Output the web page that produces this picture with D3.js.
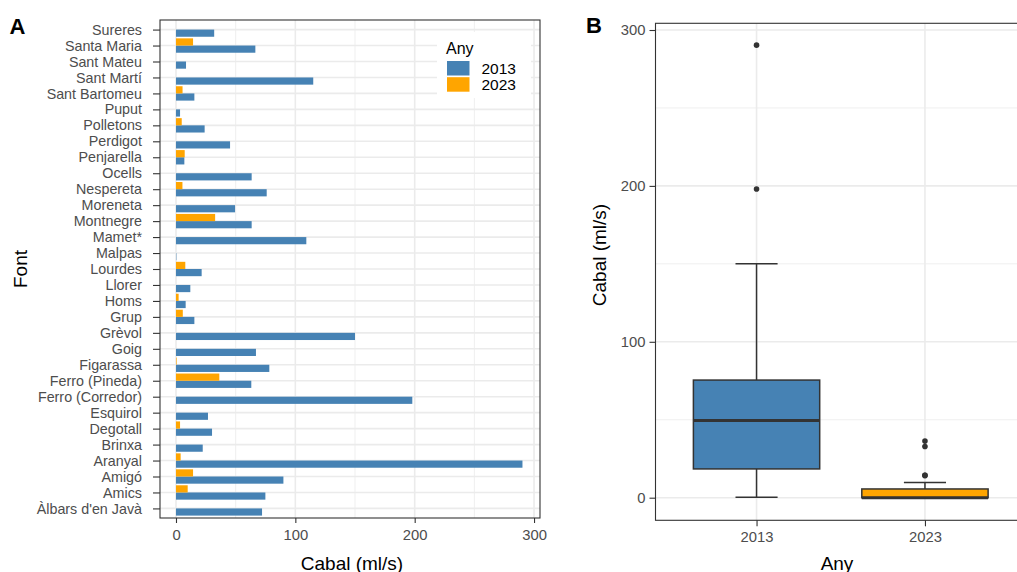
<!DOCTYPE html>
<html><head><meta charset="utf-8">
<script src="https://cdn.jsdelivr.net/npm/d3@7"></script>
<style>
html,body{margin:0;padding:0;background:#fff;overflow:hidden;}
text{font-family:"Liberation Sans",Arial,Helvetica,sans-serif;}
</style></head>
<body>
<svg id="chart" width="1017" height="572"></svg>
<script>
// ---- data ----
const categories = ["Sureres","Santa Maria","Sant Mateu","Sant Martí","Sant Bartomeu","Puput","Polletons","Perdigot","Penjarella","Ocells","Nespereta","Moreneta","Montnegre","Mamet*","Malpas","Lourdes","Llorer","Homs","Grup","Grèvol","Goig","Figarassa","Ferro (Pineda)","Ferro (Corredor)","Esquirol","Degotall","Brinxa","Aranyal","Amigó","Amics","Àlbars d'en Javà"];
const values2013 = [32,66.5,8.4,115,15.4,3.4,24,45.3,7,63.4,76,49.5,63.4,109.2,0.3,21.5,12,8.1,15.4,150,67,78.2,63.1,198,26.8,30.2,22.4,290.3,90,74.9,72.1];
const values2023 = [0,14.3,0,0,5.5,0,4.8,0,7.3,0,5.4,0,32.8,0,0,7.8,0,2.2,5.7,0,0,0.5,36.3,0,0,3.4,0,3.9,14.3,9.8,0];
const years = ["2013","2023"];
const yearColors = ["#4682B4","#FFA500"];
const xTicksA = [0,100,200,300];
const xMinorA = [50,150,250];
const yTicksB = [0,100,200,300];
const yMinorB = [50,150,250];

const svg = d3.select("#chart");
const grid = "#EBEBEB", dark = "#333333", tickCol = "#4D4D4D";

// ================= Panel A =================
const A = {x0:160, x1:540, y0:20, y1:518};
const xA = d3.scaleLinear().domain([-13.4,305]).range([A.x0,A.x1]);
const yA = d3.scalePoint().domain(categories).range([A.y0,A.y1]).padding(0.6);
const step = yA.step();
const inner = d3.scaleBand().domain(["2023","2013"]).range([-0.45*step,0.45*step]);
const colorScale = d3.scaleOrdinal().domain(years).range(yearColors);

const gA = svg.append("g");
gA.append("rect").attr("x",A.x0).attr("y",A.y0).attr("width",A.x1-A.x0).attr("height",A.y1-A.y0).attr("fill","#fff");
gA.selectAll(".minx").data(xMinorA).join("line")
  .attr("x1",d=>xA(d)).attr("x2",d=>xA(d)).attr("y1",A.y0).attr("y2",A.y1)
  .attr("stroke",grid).attr("stroke-width",0.8);
gA.selectAll(".majx").data(xTicksA).join("line")
  .attr("x1",d=>xA(d)).attr("x2",d=>xA(d)).attr("y1",A.y0).attr("y2",A.y1)
  .attr("stroke",grid).attr("stroke-width",1.6);
gA.selectAll(".majy").data(categories).join("line")
  .attr("x1",A.x0).attr("x2",A.x1).attr("y1",d=>yA(d)).attr("y2",d=>yA(d))
  .attr("stroke",grid).attr("stroke-width",1.6);

const barData = [];
categories.forEach((c,i)=>{
  barData.push({cat:c, year:"2013", v:values2013[i]});
  barData.push({cat:c, year:"2023", v:values2023[i]});
});
gA.selectAll(".bar").data(barData).join("rect")
  .attr("x",xA(0))
  .attr("y",d=>yA(d.cat)+inner(d.year))
  .attr("width",d=>Math.max(0,xA(d.v)-xA(0)))
  .attr("height",inner.bandwidth())
  .attr("fill",d=>colorScale(d.year));

// legend
const lg = gA.append("g");
lg.append("rect").attr("x",437).attr("y",32).attr("width",94).attr("height",66).attr("fill","#fff");
lg.append("text").attr("x",446).attr("y",48).attr("dominant-baseline","central").attr("font-size",16).attr("fill","#000").text("Any");
years.forEach((yr,i)=>{
  lg.append("rect").attr("x",447).attr("y",61+i*16.2).attr("width",22.5).attr("height",14.5).attr("fill",colorScale(yr));
  lg.append("text").attr("x",481.5).attr("y",68.2+i*16.2).attr("dominant-baseline","central").attr("font-size",15.5).attr("fill","#000").text(yr);
});

gA.append("rect").attr("x",A.x0).attr("y",A.y0).attr("width",A.x1-A.x0).attr("height",A.y1-A.y0)
  .attr("fill","none").attr("stroke",dark).attr("stroke-width",1.1);

// axes A
const yAxisA = d3.axisLeft(yA).tickSize(7).tickPadding(11);
const gyA = svg.append("g").attr("transform",`translate(${A.x0},0)`).call(yAxisA);
const xAxisA = d3.axisBottom(xA).tickValues(xTicksA).tickSize(5).tickPadding(6);
const gxA = svg.append("g").attr("transform",`translate(0,${A.y1})`).call(xAxisA);
[gyA,gxA].forEach(g=>{
  g.select(".domain").remove();
  g.selectAll(".tick line").attr("stroke",dark).attr("stroke-width",1.1);
  g.selectAll(".tick text").attr("fill",tickCol).attr("font-size",14.3)
   .attr("font-family","'Liberation Sans',Arial,sans-serif");
});
gxA.selectAll(".tick text").attr("font-size",14.8);

svg.append("text").attr("x",352).attr("y",563).attr("text-anchor","middle").attr("dominant-baseline","central")
  .attr("font-size",19).text("Cabal (ml/s)");
svg.append("text").attr("transform",`translate(20,${(A.y0+A.y1)/2}) rotate(-90)`).attr("text-anchor","middle")
  .attr("dominant-baseline","central").attr("font-size",19).text("Font");
svg.append("text").attr("x",9.5).attr("y",33.5).attr("font-size",22).attr("font-weight","bold").text("A");

// ================= Panel B =================
const B = {x0:655.5, x1:1026, y0:23.3, y1:520.3};
const xB = d3.scalePoint().domain(years).range([B.x0,B.x1]).padding(0.6);
const stepB = xB.step();
const yB = d3.scaleLinear().domain([-14.5,304.3]).range([B.y1,B.y0]);

const gB = svg.append("g");
gB.selectAll(".minyb").data(yMinorB).join("line")
  .attr("x1",B.x0).attr("x2",B.x1).attr("y1",d=>yB(d)).attr("y2",d=>yB(d))
  .attr("stroke",grid).attr("stroke-width",0.8);
gB.selectAll(".majyb").data(yTicksB).join("line")
  .attr("x1",B.x0).attr("x2",B.x1).attr("y1",d=>yB(d)).attr("y2",d=>yB(d))
  .attr("stroke",grid).attr("stroke-width",1.6);
gB.selectAll(".majxb").data(years).join("line")
  .attr("x1",d=>xB(d)).attr("x2",d=>xB(d)).attr("y1",B.y0).attr("y2",B.y1)
  .attr("stroke",grid).attr("stroke-width",1.6);

function boxStats(arr){
  const s = arr.slice().sort(d3.ascending);
  const q1 = d3.quantileSorted(s,0.25), med = d3.quantileSorted(s,0.5), q3 = d3.quantileSorted(s,0.75);
  const iqr = q3-q1, lo = q1-1.5*iqr, hi = q3+1.5*iqr;
  const inside = s.filter(v=>v>=lo && v<=hi);
  return {q1,med,q3,wlo:d3.min(inside),whi:d3.max(inside),out:s.filter(v=>v<lo||v>hi)};
}
const seriesB = {"2013":values2013,"2023":values2023};
years.forEach(yr=>{
  const st = boxStats(seriesB[yr]);
  const cx = xB(yr), bw = 0.75*stepB, cw = 0.25*stepB;
  const g = gB.append("g");
  g.append("line").attr("x1",cx).attr("x2",cx).attr("y1",yB(st.q3)).attr("y2",yB(st.whi)).attr("stroke",dark).attr("stroke-width",1.5);
  g.append("line").attr("x1",cx).attr("x2",cx).attr("y1",yB(st.q1)).attr("y2",yB(st.wlo)).attr("stroke",dark).attr("stroke-width",1.5);
  g.append("line").attr("x1",cx-cw/2).attr("x2",cx+cw/2).attr("y1",yB(st.whi)).attr("y2",yB(st.whi)).attr("stroke",dark).attr("stroke-width",1.5);
  g.append("line").attr("x1",cx-cw/2).attr("x2",cx+cw/2).attr("y1",yB(st.wlo)).attr("y2",yB(st.wlo)).attr("stroke",dark).attr("stroke-width",1.5);
  g.append("rect").attr("x",cx-bw/2).attr("y",yB(st.q3)).attr("width",bw).attr("height",yB(st.q1)-yB(st.q3))
    .attr("fill",colorScale(yr)).attr("stroke",dark).attr("stroke-width",1.5);
  g.append("line").attr("x1",cx-bw/2).attr("x2",cx+bw/2).attr("y1",yB(st.med)).attr("y2",yB(st.med)).attr("stroke",dark).attr("stroke-width",3);
  g.selectAll("circle").data(st.out).join("circle").attr("cx",cx).attr("cy",d=>yB(d)).attr("r",2.8).attr("fill",dark);
});

gB.append("rect").attr("x",B.x0).attr("y",B.y0).attr("width",B.x1-B.x0).attr("height",B.y1-B.y0)
  .attr("fill","none").attr("stroke",dark).attr("stroke-width",1.1);

const gyB = svg.append("g").attr("transform",`translate(${B.x0},0)`).call(d3.axisLeft(yB).tickValues(yTicksB).tickSize(6).tickPadding(4));
const gxB = svg.append("g").attr("transform",`translate(0,${B.y1})`).call(d3.axisBottom(xB).tickSize(6).tickPadding(5));
[gyB,gxB].forEach(g=>{
  g.select(".domain").remove();
  g.selectAll(".tick line").attr("stroke",dark).attr("stroke-width",1.1);
  g.selectAll(".tick text").attr("fill",tickCol).attr("font-size",14.8)
   .attr("font-family","'Liberation Sans',Arial,sans-serif");
});
svg.append("text").attr("x",837).attr("y",563).attr("text-anchor","middle").attr("dominant-baseline","central")
  .attr("font-size",19).text("Any");
svg.append("text").attr("transform",`translate(599,255) rotate(-90)`).attr("text-anchor","middle")
  .attr("dominant-baseline","central").attr("font-size",19).text("Cabal (ml/s)");
svg.append("text").attr("x",586).attr("y",33).attr("font-size",22).attr("font-weight","bold").text("B");
</script>
</body></html>
